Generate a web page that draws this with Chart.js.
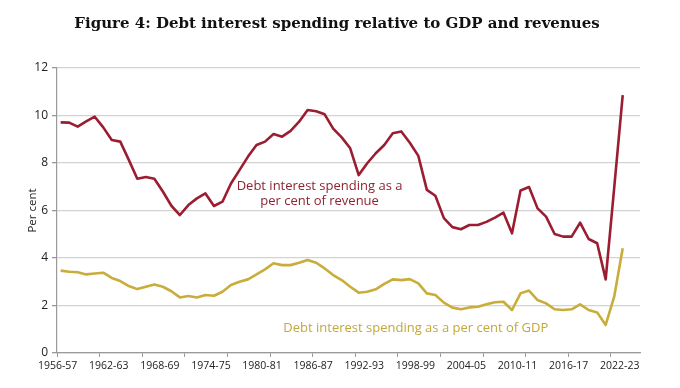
<!DOCTYPE html>
<html>
<head>
<meta charset="utf-8">
<script src="https://cdn.jsdelivr.net/npm/chart.js@4.4.1/dist/chart.umd.min.js"></script>
<style>
  body { margin: 0; background: #fff; }
  #wrap { width: 680px; height: 388px; }
</style>
</head>
<body>
<div id="wrap"><canvas id="debtChart" width="680" height="388"></canvas></div>
<script>
const years = [
  '1956-57','1957-58','1958-59','1959-60','1960-61','1961-62','1962-63','1963-64','1964-65','1965-66',
  '1966-67','1967-68','1968-69','1969-70','1970-71','1971-72','1972-73','1973-74','1974-75','1975-76',
  '1976-77','1977-78','1978-79','1979-80','1980-81','1981-82','1982-83','1983-84','1984-85','1985-86',
  '1986-87','1987-88','1988-89','1989-90','1990-91','1991-92','1992-93','1993-94','1994-95','1995-96',
  '1996-97','1997-98','1998-99','1999-00','2000-01','2001-02','2002-03','2003-04','2004-05','2005-06',
  '2006-07','2007-08','2008-09','2009-10','2010-11','2011-12','2012-13','2013-14','2014-15','2015-16',
  '2016-17','2017-18','2018-19','2019-20','2020-21','2021-22','2022-23'
];

// debt interest spending, % of revenue
const pctRevenue = [
  9.71, 9.70, 9.53, 9.75, 9.95, 9.50, 8.97, 8.90, 8.13, 7.34,
  7.41, 7.34, 6.80, 6.20, 5.81, 6.23, 6.51, 6.72, 6.19, 6.37,
  7.14, 7.70, 8.27, 8.76, 8.90, 9.22, 9.11, 9.35, 9.74, 10.23,
  10.18, 10.05, 9.45, 9.08, 8.62, 7.49, 7.99, 8.41, 8.76, 9.25,
  9.33, 8.85, 8.30, 6.87, 6.62, 5.68, 5.30, 5.21, 5.39, 5.39,
  5.52, 5.70, 5.91, 5.04, 6.84, 6.99, 6.09, 5.74, 5.01, 4.90,
  4.90, 5.49, 4.80, 4.62, 3.10, 6.95, 10.86
];

// debt interest spending, % of GDP
const pctGDP = [
  3.47, 3.42, 3.40, 3.31, 3.35, 3.38, 3.16, 3.03, 2.82, 2.69,
  2.79, 2.88, 2.79, 2.60, 2.34, 2.40, 2.34, 2.44, 2.41, 2.58,
  2.86, 3.00, 3.10, 3.31, 3.52, 3.78, 3.70, 3.70, 3.80, 3.92,
  3.80, 3.56, 3.28, 3.07, 2.79, 2.54, 2.58, 2.68, 2.91, 3.10,
  3.07, 3.11, 2.93, 2.51, 2.44, 2.12, 1.91, 1.84, 1.92, 1.95,
  2.05, 2.14, 2.16, 1.81, 2.51, 2.63, 2.23, 2.09, 1.84, 1.81,
  1.84, 2.05, 1.81, 1.71, 1.18, 2.37, 4.41
];

const yTicks = [0, 2, 4, 6, 8, 10, 12];

const RED = '#9b1d31';
const GOLD = '#c9ad3b';
const FONT = 'Open Sans';

const titleText = 'Figure 4: Debt interest spending relative to GDP and revenues';

// in-chart labels, placed in data units
const notes = [
  { lines: ['Debt interest spending as a', 'per cent of revenue'], x: 30.4, y: 7.0, color: '#8e2233' },
  { lines: ['Debt interest spending as a per cent of GDP'], x: 41.7, y: 1.05, color: '#c2a83c' }
];

const textPlugin = {
  id: 'texts',
  afterDraw(chart) {
    const ctx = chart.ctx;
    const xs = chart.scales.x, ys = chart.scales.y;
    ctx.save();
    ctx.textAlign = 'center';
    ctx.textBaseline = 'alphabetic';
    ctx.fillStyle = '#111';
    ctx.font = 'bold 15px "DejaVu Serif"';
    ctx.fillText(titleText, 337, 27.5);

    ctx.textBaseline = 'middle';
    ctx.font = '13px "' + FONT + '"';
    notes.forEach(n => {
      ctx.fillStyle = n.color;
      const px = xs.getPixelForValue(n.x);
      const py = ys.getPixelForValue(n.y);
      n.lines.forEach((l, i) => ctx.fillText(l, px, py + i * 15));
    });
    ctx.restore();
  }
};

const toPoints = arr => arr.map((v, i) => ({ x: i, y: v }));

new Chart(document.getElementById('debtChart'), {
  type: 'line',
  data: {
    datasets: [
      {
        label: 'Debt interest spending as a per cent of revenue',
        data: toPoints(pctRevenue),
        borderColor: RED,
        borderWidth: 2.6,
        pointRadius: 0,
        tension: 0,
        borderJoinStyle: 'round'
      },
      {
        label: 'Debt interest spending as a per cent of GDP',
        data: toPoints(pctGDP),
        borderColor: GOLD,
        borderWidth: 2.6,
        pointRadius: 0,
        tension: 0,
        borderJoinStyle: 'round'
      }
    ]
  },
  options: {
    responsive: false,
    animation: false,
    layout: { padding: { left: 12, right: 40, top: 68, bottom: 0 } },
    plugins: {
      legend: { display: false },
      title: { display: false },
      tooltip: { enabled: false }
    },
    scales: {
      x: {
        type: 'linear',
        min: -0.43,
        max: 68.03,
        afterBuildTicks(scale) {
          const t = [];
          for (let v = -0.4; v < 68; v += 5) t.push({ value: v, mark: true });
          for (let i = 0; i < years.length; i += 6) t.push({ value: i });
          t.sort((a, b) => a.value - b.value);
          scale.ticks = t;
        },
        afterFit(scale) { scale.height = 35; },
        ticks: {
          autoSkip: false,
          maxRotation: 0,
          labelOffset: -3,
          padding: 3,
          color: '#222',
          font: { family: FONT, size: 10.5 },
          callback: (v, idx, ticks) => ticks[idx].mark ? '' : years[Math.round(v)]
        },
        grid: {
          drawOnChartArea: false,
          tickLength: 4,
          tickColor: c => (c.tick && c.tick.mark) ? '#999' : 'rgba(0,0,0,0)'
        },
        border: { color: '#999', width: 1.2 }
      },
      y: {
        min: 0,
        max: 12,
        afterBuildTicks(scale) { scale.ticks = yTicks.map(v => ({ value: v })); },
        afterFit(scale) { scale.width = 45; },
        ticks: { padding: 4, color: '#222', font: { family: FONT, size: 12 } },
        grid: { color: '#d3d3d3', lineWidth: 1.3, tickLength: 5, tickColor: '#999' },
        border: { color: '#999', width: 1.2 },
        title: {
          display: true,
          text: 'Per cent',
          color: '#222',
          font: { family: FONT, size: 11.5 },
          padding: { top: 14, bottom: 0 }
        }
      }
    }
  },
  plugins: [textPlugin]
});
</script>
</body>
</html>
